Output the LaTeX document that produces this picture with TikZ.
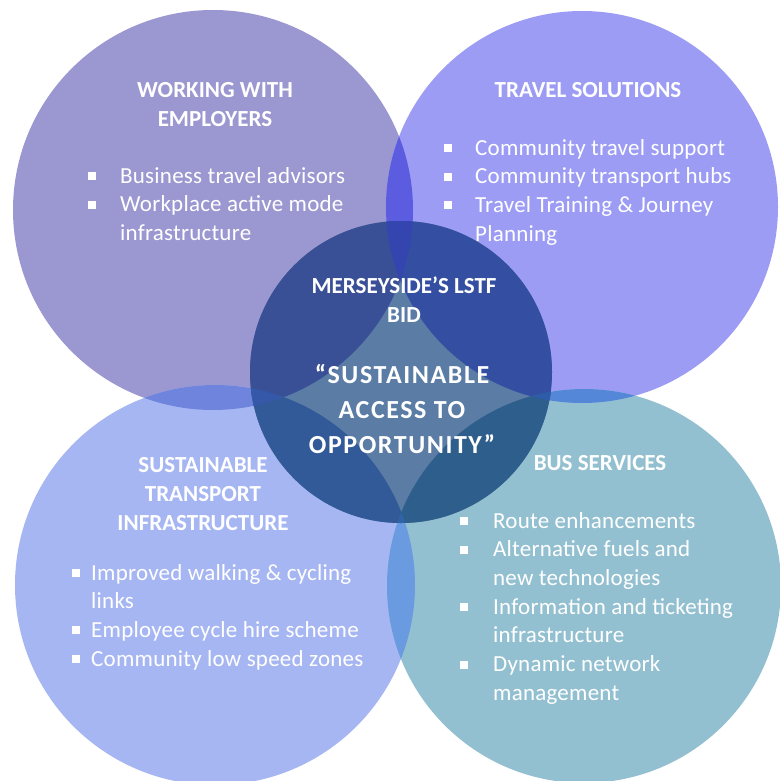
\documentclass[tikz,border=0pt]{standalone}
\usepackage{fontspec}
\setmainfont{Carlito}
\usepackage{array}
\definecolor{cTL}{HTML}{9B97D0}
\definecolor{cTR}{HTML}{9C9CF5}
\definecolor{cBL}{HTML}{A6B6F2}
\definecolor{cBR}{HTML}{93C0D0}
\definecolor{oTLTR}{HTML}{5C5CE0}
\definecolor{oTLBL}{HTML}{6F85DD}
\definecolor{oTRBR}{HTML}{5587D8}
\definecolor{oBLBR}{HTML}{6A9BE0}
\definecolor{cMid}{HTML}{5A7CA5}
\definecolor{mTL}{HTML}{3A5096}
\definecolor{mTR}{HTML}{344FA2}
\definecolor{mBL}{HTML}{335A98}
\definecolor{mBR}{HTML}{2E5E8C}
\definecolor{sTop}{HTML}{3545B0}
\definecolor{sLeft}{HTML}{3658A8}
\definecolor{sRight}{HTML}{2F5CA8}
\definecolor{sBot}{HTML}{2F64A6}
\newcommand{\bsq}{\rule[3pt]{8pt}{8pt}}
\begin{document}
\begin{tikzpicture}[x=1pt,y=-1pt,
  head/.style={text=white, font=\fontsize{23}{29}\selectfont\bfseries, inner sep=0pt, anchor=base},
  quote/.style={text=white, font=\fontsize{26}{35}\selectfont\bfseries\addfontfeature{LetterSpace=6}, inner sep=0pt, anchor=base},
  body/.style={text=white, font=\fontsize{23}{28.7}\selectfont\addfontfeature{LetterSpace=1}, inner sep=0pt, anchor=base west},
]
\useasboundingbox (0,0) rectangle (779,781);
\fill[white] (0,0) rectangle (779,781);
% coordinates of circle centres
\coordinate (ctl) at (213,210);
\coordinate (ctr) at (582,207);
\coordinate (cbl) at (215,585);
\coordinate (cbr) at (584,586);
\coordinate (cc) at (401,372);
\def\rtl{200pt}\def\rtr{196pt}\def\rbl{200pt}\def\rbr{197pt}\def\rc{151pt}
% base circles
\fill[cTL] (ctl) circle[radius=\rtl];
\fill[cTR] (ctr) circle[radius=\rtr];
\fill[cBL] (cbl) circle[radius=\rbl];
\fill[cBR] (cbr) circle[radius=\rbr];
% pairwise overlaps
\begin{scope}\clip (ctl) circle[radius=\rtl]; \fill[oTLTR] (ctr) circle[radius=\rtr]; \end{scope}
\begin{scope}\clip (ctl) circle[radius=\rtl]; \fill[oTLBL] (cbl) circle[radius=\rbl]; \end{scope}
\begin{scope}\clip (ctr) circle[radius=\rtr]; \fill[oTRBR] (cbr) circle[radius=\rbr]; \end{scope}
\begin{scope}\clip (cbl) circle[radius=\rbl]; \fill[oBLBR] (cbr) circle[radius=\rbr]; \end{scope}
% centre circle
\fill[cMid] (cc) circle[radius=\rc];
\begin{scope}
  \clip (cc) circle[radius=\rc];
  \fill[mTL] (ctl) circle[radius=\rtl];
  \fill[mTR] (ctr) circle[radius=\rtr];
  \fill[mBL] (cbl) circle[radius=\rbl];
  \fill[mBR] (cbr) circle[radius=\rbr];
  \begin{scope}\clip (ctl) circle[radius=\rtl]; \fill[sTop] (ctr) circle[radius=\rtr]; \fill[sLeft] (cbl) circle[radius=\rbl]; \end{scope}
  \begin{scope}\clip (cbr) circle[radius=\rbr]; \fill[sRight] (ctr) circle[radius=\rtr]; \fill[sBot] (cbl) circle[radius=\rbl]; \end{scope}
\end{scope}
% headings
\node[head] (h-tl) at (215,98) {\begin{tabular}[t]{@{}c@{}}WORKING WITH\\EMPLOYERS\end{tabular}};
\node[head] (h-tr) at (588,98) {\begin{tabular}[t]{@{}c@{}}TRAVEL SOLUTIONS\end{tabular}};
\node[head, text=white!94] (h-bl) at (203,472) {\begin{tabular}[t]{@{}c@{}}SUSTAINABLE\\TRANSPORT\\INFRASTRUCTURE\end{tabular}};
\node[head, text=white!94] (h-br) at (600,470) {\begin{tabular}[t]{@{}c@{}}BUS SERVICES\end{tabular}};
\node[head] (h-c) at (404,293) {\begin{tabular}[t]{@{}c@{}}MERSEYSIDE’S LSTF\\BID\end{tabular}};
\node[quote] (q-c) at (402,383) {\begin{tabular}[t]{@{}c@{}}“SUSTAINABLE\\ACCESS TO\\OPPORTUNITY”\end{tabular}};
% lists
\node[body] (l-tl) at (88,183) {\begin{tabular}[t]{@{}p{32pt}@{}l@{}}\bsq & Business travel advisors\\ \bsq & Workplace active mode\\ & infrastructure\end{tabular}};
\node[body] (l-tr) at (444,155) {\begin{tabular}[t]{@{}p{31pt}@{}l@{}}\bsq & Community travel support\\ \bsq & Community transport hubs\\ \bsq & Travel Training \& Journey\\ & Planning\end{tabular}};
\node[body, text=white!92] (l-bl) at (72,580) {\begin{tabular}[t]{@{}p{19pt}@{}l@{}}\bsq & Improved walking \& cycling\\ & links\\ \bsq & Employee cycle hire scheme\\ \bsq & Community low speed zones\end{tabular}};
\node[body, text=white!92] (l-br) at (460,528) {\begin{tabular}[t]{@{}p{33pt}@{}l@{}}\bsq & Route enhancements\\ \bsq & Alternative fuels and\\ & new technologies\\ \bsq & Information and ticketing\\ & infrastructure\\ \bsq & Dynamic network\\ & management\end{tabular}};
\end{tikzpicture}
\end{document}
